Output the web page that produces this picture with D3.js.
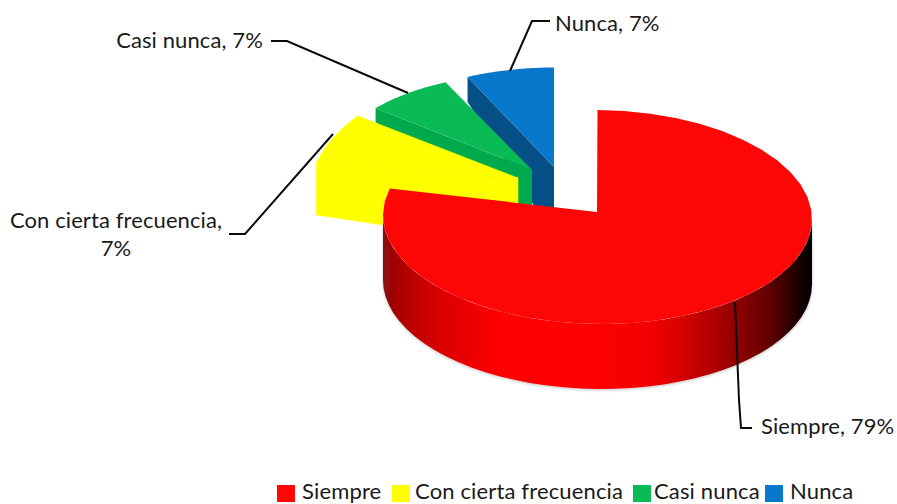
<!DOCTYPE html>
<html><head><meta charset="utf-8">
<script src="https://cdnjs.cloudflare.com/ajax/libs/d3/7.8.5/d3.min.js"></script>
<style>html,body{margin:0;padding:0;background:#fff;overflow:hidden}svg{display:block}text{font-family:Lato,"Open Sans",sans-serif;fill:#1a1a1a}</style>
</head><body><script>
const categories = ["Siempre", "Con cierta frecuencia", "Casi nunca", "Nunca"];
const values = [79, 7, 7, 7];
const colors = ["#fe0606", "#ffff00", "#0abb55", "#0878cc"];
const faceColors = ["#fe0606", "#ffff00", "#00aa4c", "#054f86"];

// Perspective geometry for each exploded slice (layout only)
const geometry = [
  {cx:597.5, cy:217, rx:214.5, ry:107, k:2, hubX:597, hubY:212, rimDepth:65, hubDepth:65},
  {cx:518, cy:178, rx:208, ry:114, k:-13.8, hubX:518, hubY:178, rimDepth:52, hubDepth:67},
  {cx:532, cy:170, rx:203, ry:97, k:0, hubX:532, hubY:170, rimDepth:14, hubDepth:70},
  {cx:554, cy:167, rx:203, ry:99.5, k:0, hubX:554, hubY:167, rimDepth:25, hubDepth:70}
];

const W = 897, H = 504;
const svg = d3.select("body").append("svg").attr("width", W).attr("height", H);
const defs = svg.append("defs");

const shadeX = d3.scaleLinear()
  .domain([383, 403, 437, 503, 603, 653, 687, 737, 770, 803, 812])
  .range(["#8a0a0a", "#b00000", "#d80000", "#ff0000", "#fd0404", "#f00000", "#d00000", "#900000", "#600000", "#100000", "#000000"]);
const grad = defs.append("linearGradient").attr("id", "wall")
  .attr("gradientUnits", "userSpaceOnUse").attr("x1", 383).attr("x2", 812).attr("y1", 0).attr("y2", 0);
shadeX.domain().forEach(d => grad.append("stop")
  .attr("offset", (d - 383) / (812 - 383)).attr("stop-color", shadeX(d)));
const f = defs.append("filter").attr("id", "soft").attr("x", "-5%").attr("y", "-5%").attr("width", "110%").attr("height", "115%");
f.append("feDropShadow").attr("dx", 0).attr("dy", 1).attr("stdDeviation", 1.5).attr("flood-color", "#000").attr("flood-opacity", 0.25);

const pie = d3.pie().sort(null).value(d => d);
const arcs = pie(values);
const line = d3.line();
const rim = (g, a) => [g.cx + g.rx * Math.sin(a), g.cy - g.ry * Math.cos(a) + g.k * Math.sin(a)];
const arcPts = (g, a0, a1) => d3.range(0, 41).map(i => rim(g, a0 + (a1 - a0) * i / 40));

// back to front: Nunca, Casi nunca, Con cierta frecuencia
[3, 2, 1].forEach(i => {
  const g = geometry[i], a = arcs[i], s = rim(g, a.startAngle);
  svg.append("path").attr("fill", faceColors[i])
    .attr("stroke", faceColors[i]).attr("stroke-width", i === 1 ? 0.6 : 0)
    .attr("d", line([s, [s[0], s[1] + g.rimDepth], [g.hubX, g.hubY + g.hubDepth], [g.hubX, g.hubY]]) + "Z");
  svg.append("path").attr("fill", colors[i])
    .attr("stroke", colors[i]).attr("stroke-width", i === 1 ? 0.6 : 0)
    .attr("d", line([[g.hubX, g.hubY], ...arcPts(g, a.startAngle, a.endAngle)]) + "Z");
});

// Siempre: wall, then top
{
  const g = geometry[0], a = arcs[0];
  const front = arcPts(g, Math.PI / 2, 3 * Math.PI / 2);
  const back = front.slice().reverse().map(p => [p[0], p[1] + g.rimDepth]);
  svg.append("path").attr("fill", "url(#wall)").attr("filter", "url(#soft)")
    .attr("d", line([...front, ...back]) + "Z");
  svg.append("path").attr("fill", colors[0])
    .attr("d", line([[g.hubX, g.hubY], ...arcPts(g, a.startAngle, a.endAngle)]) + "Z");
}

// leader lines
const leaders = [
  [[735, 302], [739, 400], [741, 428], [752, 428]],
  [[333, 134], [245, 234], [229, 234]],
  [[408, 93], [287, 41], [271, 41]],
  [[510, 71], [532, 21], [550, 21]]
];
leaders.forEach(p => svg.append("path").attr("d", line(p)).attr("fill", "none").attr("stroke", "#0a0a0a").attr("stroke-width", 2));

// data labels
const lbl = (x, y, t, anchor) => svg.append("text").attr("x", x).attr("y", y)
  .attr("font-size", 22).attr("letter-spacing", 0.1).attr("text-anchor", anchor).text(t);
lbl(761, 434, `${categories[0]}, ${values[0]}%`, "start");
lbl(116, 228, `${categories[1]},`, "middle");
lbl(116, 256, `${values[1]}%`, "middle");
lbl(189.5, 48, `${categories[2]}, ${values[2]}%`, "middle");
lbl(555, 31, `${categories[3]}, ${values[3]}%`, "start");

// legend
const legendKeyX = [277, 392, 633, 765];
const legendTextX = [302, 415, 654, 790];
categories.forEach((c, i) => {
  svg.append("rect").attr("x", legendKeyX[i]).attr("y", 485).attr("width", 18).attr("height", 17).attr("fill", colors[i]);
  svg.append("text").attr("x", legendTextX[i]).attr("y", 499).attr("font-size", 22).attr("letter-spacing", 0.15).text(c);
});
</script></body></html>
